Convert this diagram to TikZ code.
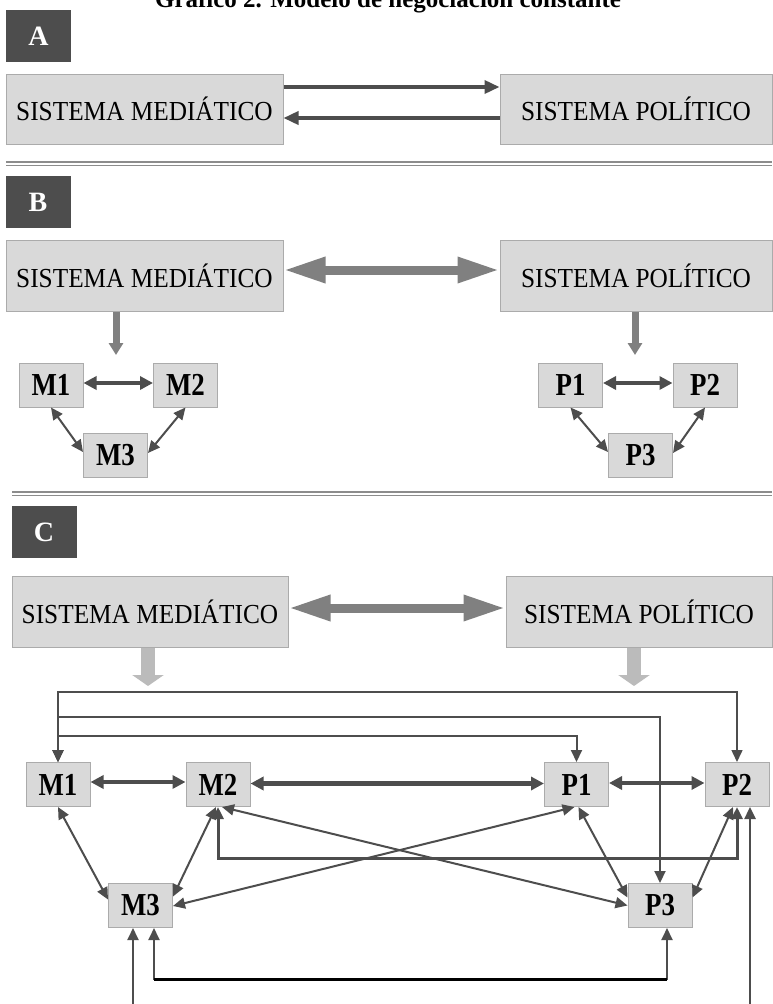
\documentclass[tikz,border=0pt]{standalone}
\usepackage{fontspec}
\setmainfont{Liberation Serif}
\usepackage{graphicx}
\usepackage{tikz}
\usetikzlibrary{arrows.meta,positioning}

\definecolor{boxfill}{HTML}{D9D9D9}
\definecolor{boxline}{HTML}{ABABAB}
\definecolor{dark}{HTML}{4D4D4D}
\definecolor{midgray}{HTML}{808080}
\definecolor{palegray}{HTML}{BBBBBB}
\definecolor{rulegray}{HTML}{8C8C8C}

\newcommand\narrow[2]{\scalebox{#1}[1]{#2}}

\begin{document}
\begin{tikzpicture}[
    x=1pt, y=-1pt,
    sysbox/.style={
        draw = boxline,
        fill = boxfill,
        line width = 1pt,
        inner sep = 0pt,
        font = \fontsize{27.5}{30}\selectfont
    },
    subbox/.style={
        draw = boxline,
        fill = boxfill,
        line width = 1pt,
        inner sep = 0pt,
        minimum width = 64pt,
        minimum height = 44pt,
        font = \fontsize{32}{34}\selectfont\bfseries
    },
    tag/.style={
        fill = dark,
        text = white,
        inner sep = 0pt,
        minimum width = 65pt,
        minimum height = 52pt,
        font = \fontsize{28}{30}\selectfont\bfseries
    },
    rule/.style={
        draw = rulegray,
        line width = 1.2pt
    },
    fat/.style={
        draw = dark,
        line width = 3.5pt,
        >={Triangle[length=15pt,width=13pt]}
    },
    heavy/.style={
        draw = dark,
        line width = 3.5pt,
        >={Triangle[length=13pt,width=13pt]}
    },
    light/.style={
        draw = dark,
        line width = 2pt,
        >={Triangle[length=12pt,width=11pt]}
    },
    bigarrow/.style={
        draw = midgray,
        line width = 9pt,
        <->,
        >={Triangle[length=42pt,width=24pt]}
    },
    downarrow/.style={
        draw = midgray,
        line width = 7pt,
        ->,
        >={Triangle[length=12pt,width=14pt]}
    },
    paledown/.style={
        draw = palegray,
        line width = 14pt,
        ->,
        >={Triangle[length=11pt,width=31pt]}
    }
]

\fill[white] (0,0) rectangle (772,1004);
\useasboundingbox (0,0) rectangle (772,1004);

\node[font=\fontsize{25}{28}\selectfont\bfseries, anchor=base, inner sep=0pt] (title) at (388,7)
    {Gráfico 2. Modelo de negociación constante};

% A
\node[tag] (tagA) at (38.5,36) {A};
\node[sysbox, minimum width=277pt, minimum height=70pt] (aMed) at (144.5,109)
    {\narrow{0.92}{SISTEMA MEDIÁTICO}};
\node[sysbox, minimum width=272pt, minimum height=70pt] (aPol) at (636,109)
    {\narrow{0.92}{SISTEMA POLÍTICO}};

\draw[fat, ->] ([yshift=22pt]aMed.east) -- ([yshift=22pt]aPol.west);
\draw[fat, ->] ([yshift=-9pt]aPol.west) -- ([yshift=-9pt]aMed.east);

\foreach \ry in {162,165.5}
    \draw[rule] (6,\ry) -- (772,\ry);

% B
\node[tag] (tagB) at (38,202) {B};
\node[sysbox, minimum width=277pt, minimum height=71pt] (bMed) at (144.5,275.5)
    {\narrow{0.92}{SISTEMA MEDIÁTICO}};
\node[sysbox, minimum width=272pt, minimum height=71pt] (bPol) at (636,275.5)
    {\narrow{0.92}{SISTEMA POLÍTICO}};

\draw[bigarrow] ([yshift=5.5pt]bMed.east) -- ([yshift=5.5pt]bPol.west);
\coordinate (bMedTip) at (116,355);
\coordinate (bPolTip) at (635,355);
\draw[downarrow] (bMedTip |- bMed.south) -- (bMedTip);
\draw[downarrow] (bPolTip |- bPol.south) -- (bPolTip);

\foreach \nm/\bx/\by in {M1/51/385, M2/185.5/385, M3/115.5/455,
                         P1/570.5/385, P2/705/385, P3/640.5/455}
    \node[subbox] (b\nm) at (\bx,\by) {\narrow{0.84}{\nm}};

\foreach \gr in {M,P}
{
    \draw[heavy, <->] ([yshift=2pt]b\gr1.east) -- ([yshift=2pt]b\gr2.west);
    \draw[light, <->] (b\gr1.south) -- ([yshift=3pt]b\gr3.west);
    \draw[light, <->] (b\gr2.south) -- ([yshift=2pt]b\gr3.east);
}

\foreach \ry in {492,495.5}
    \draw[rule] (12,\ry) -- (772,\ry);

% C
\node[tag] (tagC) at (44,532) {C};
\node[sysbox, minimum width=276pt, minimum height=71pt] (cMed) at (150,611.5)
    {\narrow{0.92}{SISTEMA MEDIÁTICO}};
\node[sysbox, minimum width=266pt, minimum height=71pt] (cPol) at (639,611.5)
    {\narrow{0.92}{SISTEMA POLÍTICO}};

\draw[bigarrow] ([yshift=3.5pt]cMed.east) -- ([yshift=3.5pt]cPol.west);
\coordinate (cMedTip) at (148,686);
\coordinate (cPolTip) at (634,686);
\draw[paledown] (cMedTip |- cMed.south) -- (cMedTip);
\draw[paledown] (cPolTip |- cPol.south) -- (cPolTip);

\foreach \nm/\bx/\by in {M1/58/784.5, M2/218/784.5, M3/140.5/905.5,
                         P1/576.5/784.5, P2/737/784.5, P3/660/905.5}
    \node[subbox] (c\nm) at (\bx,\by) {\narrow{0.84}{\nm}};

\coordinate (topA) at (58,692);
\coordinate (topB) at (58,717);
\coordinate (topC) at (58,736);
\draw[light, line width=1.5pt, <->] (cM1.north) -- (topA) -| (cP2.north);
\draw[light, <->] (cM1.north) -- (topB) -| (cP3.north);
\draw[light, <->] (cM1.north) -- (topC) -| (cP1.north);

\draw[heavy, line width=4.5pt, <->] ([yshift=2.5pt]cM1.east) -- ([yshift=2.5pt]cM2.west);
\draw[heavy, line width=4.5pt, <->] ([yshift=1pt]cM2.east) -- ([yshift=1pt]cP1.west);
\draw[heavy, line width=4pt, <->] ([yshift=1.5pt]cP1.east) -- ([yshift=1.5pt]cP2.west);

\draw[light, <->] (cM1.south) -- ([yshift=6pt]cM3.west);
\draw[light, <->] ([xshift=-2pt]cM2.south) -- ([yshift=9pt]cM3.east);
\draw[light, <->] ([xshift=-2pt]cP1.south) -- ([yshift=-0.5pt]cM3.east);
\draw[light, <->] ([xshift=4pt]cM2.south) -- (cP3.west);
\draw[light, <->] ([xshift=2pt]cP1.south) -- ([yshift=8pt]cP3.west);
\draw[light, <->] ([xshift=-4pt]cP2.south) -- ([yshift=8pt]cP3.east);

\coordinate (loopM2P2) at (218,858);
\draw[light, line width=3pt, <->] (cM2.south) -- (loopM2P2) -| (cP2.south);

\coordinate (inP2) at (750,1004);
\draw[light, line width=2.5pt, ->] (inP2) -- (inP2 |- cP2.south);
\coordinate (inM3) at (133,1004);
\draw[light, ->] (inM3) -- (inM3 |- cM3.south);

\coordinate (loopM3) at (154,979);
\coordinate (loopP3) at (667,979);
\draw[light, <->] (loopM3 |- cM3.south) -- (loopM3) -- (loopP3) -- (loopP3 |- cP3.south);
\draw[black, line width=3pt] (loopM3) -- (loopP3);

\end{tikzpicture}
\end{document}
